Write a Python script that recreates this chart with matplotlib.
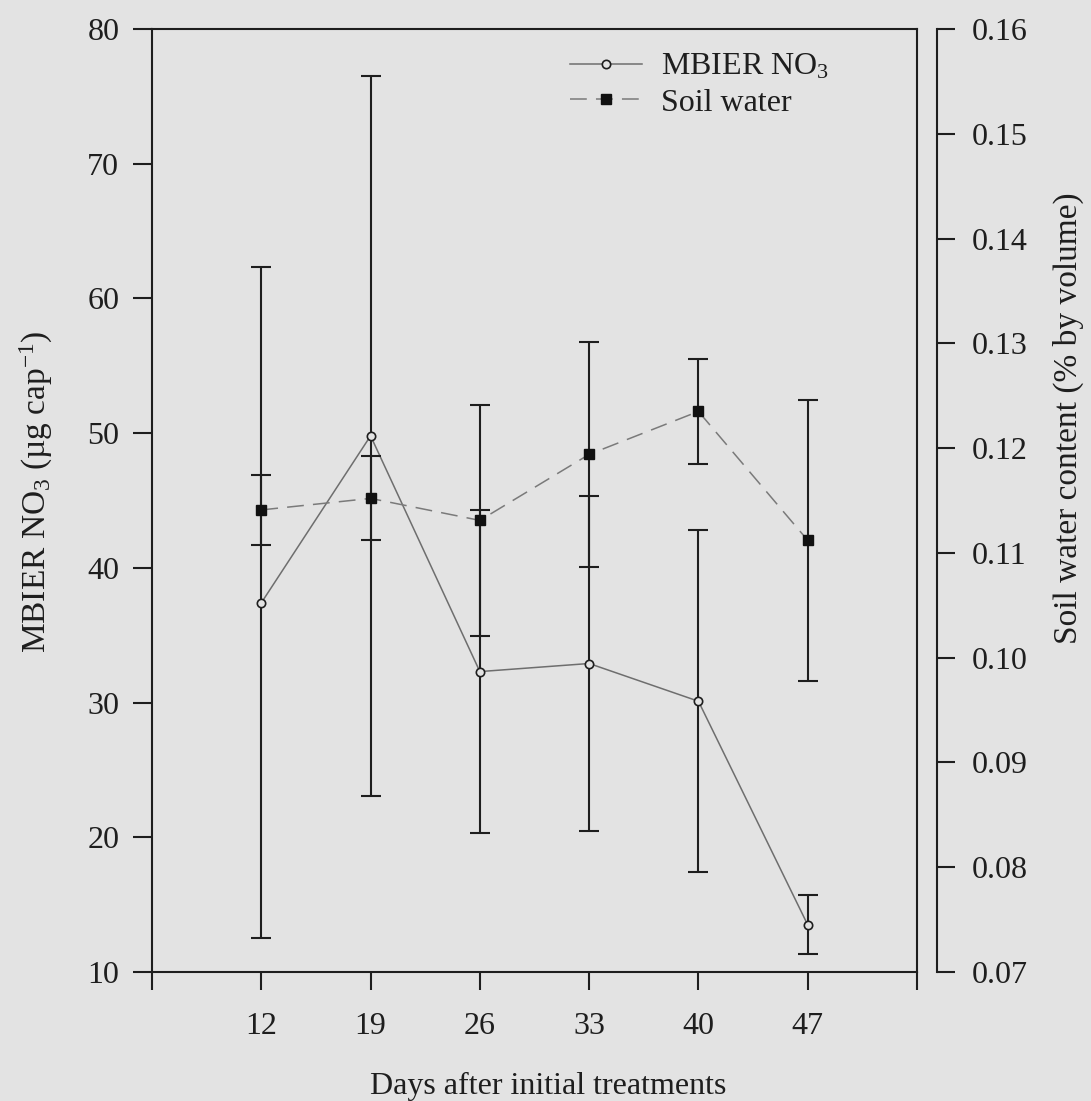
import matplotlib
matplotlib.use("Agg")
import matplotlib.pyplot as plt
from matplotlib.lines import Line2D

plt.rcParams['font.family'] = ['Liberation Serif', 'DejaVu Serif']
plt.rcParams['mathtext.fontset'] = 'custom'
plt.rcParams['mathtext.rm'] = 'Liberation Serif'
plt.rcParams['mathtext.it'] = 'Liberation Serif:italic'
plt.rcParams['mathtext.bf'] = 'Liberation Serif:bold'

# ---- data ----
days = [12, 19, 26, 33, 40, 47]
mbier_no3 = [37.4, 49.8, 32.3, 32.9, 30.1, 13.5]
mbier_err = [24.9, 26.7, 12.0, 12.4, 12.7, 2.2]
soil_water = [0.1141, 0.1152, 0.1131, 0.1194, 0.1235, 0.1112]
soil_err = [0.0033, 0.0040, 0.0110, 0.0107, 0.0050, 0.0134]
x_limits = [5, 54]
left_ticks = [10, 20, 30, 40, 50, 60, 70, 80]
right_ticks = [0.07, 0.08, 0.09, 0.10, 0.11, 0.12, 0.13, 0.14, 0.15, 0.16]

bg = '#e3e3e3'
ink = '#1e1e1e'
W, H = 1091, 1101
fig = plt.figure(figsize=(W / 100, H / 100), dpi=100, facecolor=bg)
left_px, right_px, top_px, bot_px = 152, 917, 29, 972
ax = fig.add_axes([left_px / W, 1 - bot_px / H, (right_px - left_px) / W, (bot_px - top_px) / H])
ax.set_facecolor(bg)
ax2 = ax.twinx()

fs = 23

# lines
ax.plot(days, mbier_no3, '-', color='#6e6e6e', lw=1.1, zorder=2)
ax.errorbar(days, mbier_no3, yerr=mbier_err, fmt='none', ecolor=ink,
            elinewidth=1.5, capsize=7.5, capthick=1.5, zorder=3)
ax.plot(days, mbier_no3, 'o', ms=6, mfc=bg, mec=ink, mew=1.2, zorder=4)

ax2.plot(days, soil_water, '-', color='#7a7a7a', lw=1.1, dashes=(11, 6), zorder=2)
ax2.errorbar(days, soil_water, yerr=soil_err, fmt='none', ecolor=ink,
             elinewidth=1.5, capsize=7.5, capthick=1.5, zorder=3)
ax2.plot(days, soil_water, 's', ms=6.5, mfc='#111111', mec='#111111', zorder=4)

ax.set_xlim(*x_limits)
ax.set_ylim(left_ticks[0], left_ticks[-1])
ax2.set_ylim(right_ticks[0], right_ticks[-1])

xt = [x_limits[0]] + days + [x_limits[1]]
ax.set_xticks(xt)
ax.set_xticklabels([''] + [str(d) for d in days] + [''])
ax.set_yticks(left_ticks)
ax.set_yticklabels([str(v) for v in left_ticks])
ax2.set_yticks(right_ticks)
ax2.set_yticklabels(['%.2f' % v for v in right_ticks])

for sp in ax.spines.values():
    sp.set_color(ink)
    sp.set_linewidth(1.5)
for name in ['top', 'bottom', 'left']:
    ax2.spines[name].set_visible(False)
ax2.spines['right'].set_position(('outward', 14.5))
ax2.spines['right'].set_color(ink)
ax2.spines['right'].set_linewidth(1.5)

ax.tick_params(axis='x', direction='out', length=13, width=1.5, color=ink,
               labelsize=fs, pad=16, labelcolor=ink, top=False)
ax.tick_params(axis='y', direction='out', length=13.5, width=1.5, color=ink,
               labelsize=fs, pad=10, labelcolor=ink, right=False)
ax2.tick_params(axis='y', direction='out', length=13, width=1.5, color=ink,
                labelsize=fs, pad=12, labelcolor=ink)

fig.text(548 / W, 1 - 1086 / H, 'Days after initial treatments', ha='center', va='center',
         fontsize=fs, color=ink)
fig.text(36 / W, 1 - 492 / H, 'MBIER NO$_3$ (µg cap$^{-1}$)', ha='center', va='center',
         rotation=90, fontsize=fs + 1, color=ink)
fig.text(1068 / W, 1 - 418 / H, 'Soil water content (% by volume)', ha='center', va='center',
         rotation=90, fontsize=fs + 1, color=ink)

h1 = Line2D([], [], color='#6e6e6e', lw=1.1, marker='o', ms=6, mfc=bg, mec=ink, mew=1.2)
h2 = Line2D([], [], color='#7a7a7a', lw=1.1, dashes=(11, 6), marker='s', ms=6.5,
            mfc='#111111', mec='#111111')
leg = ax.legend([h1, h2], ['MBIER NO$_3$', 'Soil water'], loc='upper left',
                bbox_to_anchor=(548 / W, 1 - 30 / H), bbox_transform=fig.transFigure,
                frameon=False, fontsize=fs, handlelength=2.25, handletextpad=0.6,
                labelspacing=0.2, borderpad=0.2)
for t in leg.get_texts():
    t.set_color(ink)

fig.savefig('out.png', dpi=100, facecolor=bg)
